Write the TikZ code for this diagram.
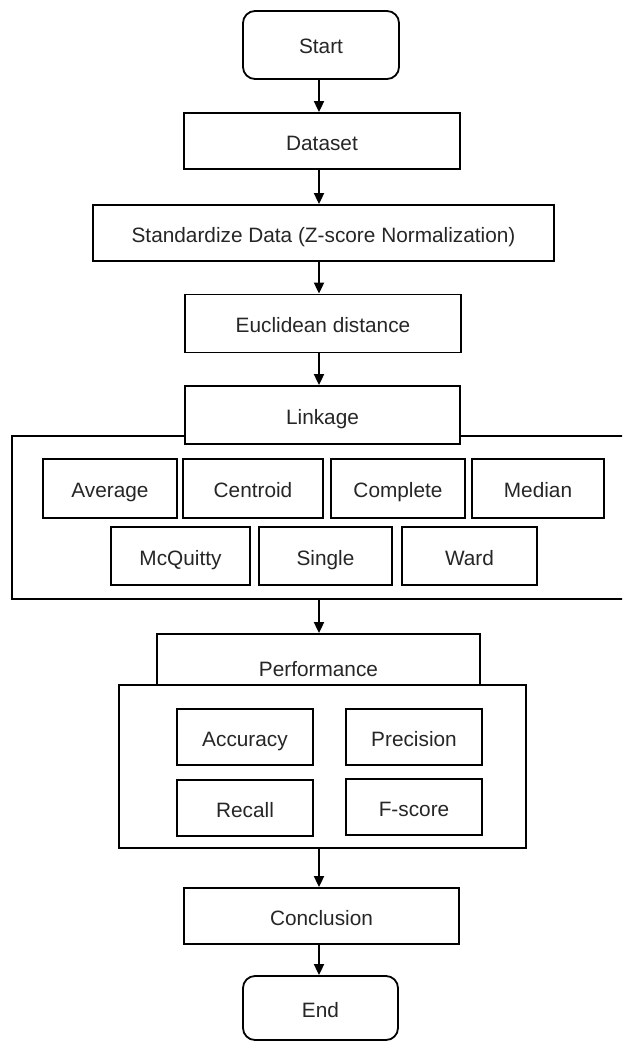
\documentclass[tikz,border=0pt]{standalone}
\usepackage{fontspec}
\setmainfont{Liberation Sans}
\usetikzlibrary{arrows.meta}
\begin{document}
\begin{tikzpicture}[x=1pt,y=-1pt,
  box/.style={draw=black, line width=1.8pt, fill=white, inner sep=0pt, text height=18pt, text depth=0pt, font=\fontsize{20.8}{25}\selectfont, text=black!85},
  term/.style={box, rounded corners=12pt},
  arr/.style={line width=1.8pt, -{Triangle[length=11pt,width=10pt]}}]
\useasboundingbox (0,0) rectangle (622,1041);
\clip (0,0) rectangle (622,1041);
\fill[white] (0,0) rectangle (622,1041);
\coordinate (axis) at (319,0);

\node[term, minimum width=156pt, minimum height=68pt] (start) at (321,45) {Start};
\node[box, minimum width=276pt, minimum height=56pt] (dataset) at (322,141) {Dataset};
\node[box, minimum width=461pt, minimum height=56pt] (std) at (323.5,233) {Standardize Data (Z-score Normalization)};
\node[box, minimum width=276pt, minimum height=58pt] (eucl) at (323,323.5) {Euclidean distance};

\node[box, minimum width=628pt, minimum height=163pt] (lgroup) at (326,517.5) {};
\node[box, minimum width=275pt, minimum height=58pt] (linkage) at (322.5,415) {Linkage};
\node[box, minimum width=134pt, minimum height=59pt] (average) at (110,488.5) {Average};
\node[box, minimum width=140pt, minimum height=59pt] (centroid) at (253,488.5) {Centroid};
\node[box, minimum width=134pt, minimum height=59pt] (complete) at (398,488.5) {Complete};
\node[box, minimum width=132pt, minimum height=59pt] (median) at (538,488.5) {Median};
\node[box, minimum width=139pt, minimum height=58pt] (mcquitty) at (180.5,556) {McQuitty};
\node[box, minimum width=133pt, minimum height=58pt] (single) at (325.5,556) {Single};
\node[box, minimum width=135pt, minimum height=58pt] (ward) at (469.5,556) {Ward};

\node[box, minimum width=323pt, minimum height=66pt] (perf) at (318.5,667) {Performance};
\node[box, minimum width=407pt, minimum height=163pt] (pgroup) at (322.5,766.5) {};
\node[box, minimum width=136pt, minimum height=56pt] (accuracy) at (245,737) {Accuracy};
\node[box, minimum width=136pt, minimum height=56pt] (precision) at (414,737) {Precision};
\node[box, minimum width=136pt, minimum height=56pt] (recall) at (245,808) {Recall};
\node[box, minimum width=136pt, minimum height=56pt] (fscore) at (414,807) {F-score};

\node[box, minimum width=275pt, minimum height=56pt] (concl) at (321.5,916) {Conclusion};
\node[term, minimum width=155pt, minimum height=64pt] (end) at (320.5,1008) {End};

\draw[arr] (start.south -| axis) -- (dataset.north -| axis);
\draw[arr] (dataset.south -| axis) -- (std.north -| axis);
\draw[arr] (std.south -| axis) -- (eucl.north -| axis);
\draw[arr] (eucl.south -| axis) -- (linkage.north -| axis);
\draw[arr] (lgroup.south -| axis) -- (perf.north -| axis);
\draw[arr] (pgroup.south -| axis) -- (concl.north -| axis);
\draw[arr] (concl.south -| axis) -- (end.north -| axis);
\end{tikzpicture}
\end{document}
